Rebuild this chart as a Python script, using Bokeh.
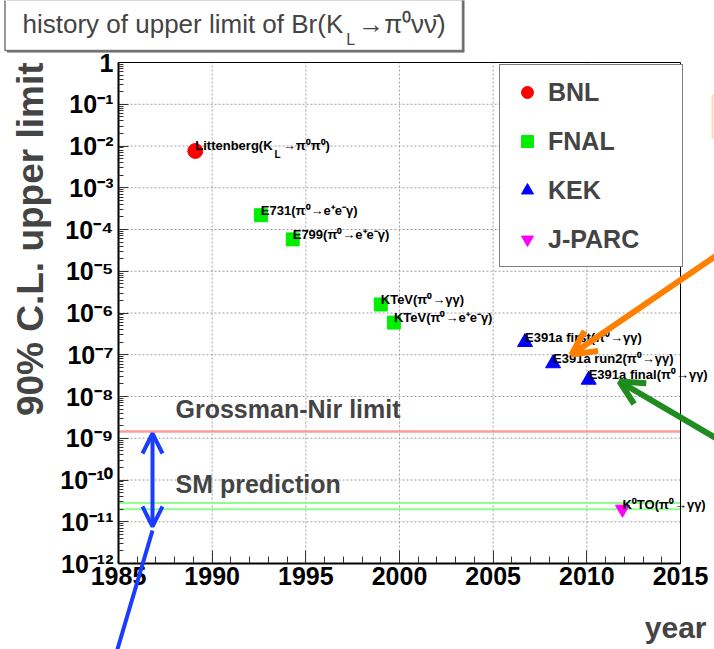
import math
import re
from bokeh.plotting import figure
from bokeh.models import (ColumnDataSource, Range1d, FixedTicker, CustomJSTickFormatter,
                          Label, LabelSet, Legend, LegendItem, Arrow, OpenHead,
                          BoxAnnotation)
from bokeh.core.properties import value
from bokeh.embed import file_html
from bokeh.resources import INLINE

# ---------------- data ----------------
bnl_years = [1989.1]
bnl_limits = [7.6e-3]
bnl_labels = ["Littenberg(K_{L}→π⁰π⁰)"]

fnal_years = [1992.6, 1994.3, 1999.0, 1999.7]
fnal_limits = [2.2e-4, 5.8e-5, 1.6e-6, 5.9e-7]
fnal_labels = ["E731(π⁰→e⁺e⁻γ)", "E799(π⁰→e⁺e⁻γ)", "KTeV(π⁰→γγ)", "KTeV(π⁰→e⁺e⁻γ)"]

kek_years = [2006.7, 2008.2, 2010.1]
kek_limits = [2.0e-7, 6.2e-8, 2.5e-8]
kek_labels = ["E391a first(π⁰→γγ)", "E391a run2(π⁰→γγ)", "E391a final(π⁰→γγ)"]

jparc_years = [2011.9]
jparc_limits = [2.0e-11]
jparc_labels = ["K⁰TO(π⁰→γγ)"]

grossman_nir_limit = 1.46e-9
sm_prediction_band = [2.0e-11, 2.8e-11]

x_tick_years = [1985, 1990, 1995, 2000, 2005, 2010, 2015]
y_tick_exponents = list(range(-12, 1))

title_text = "history of upper limit of Br(K_{L}→π⁰νν̄)"
y_title = "90% C.L. upper limit"
x_title = "year"

# ---------------- layout constants ----------------
W, H = 714, 649
PX_LEFT, PX_RIGHT, PX_TOP, PX_BOTTOM = 118, 680, 62, 563   # plot box inside the canvas
FONT = "Liberation Sans"

BOLD_W = {"L": .611, "i": .278, "t": .333, "e": .556, "n": .611, "b": .611, "r": .389,
          "g": .611, "(": .333, "K": .722, "h": .611, "s": .556, "o": .611, "y": .556,
          " ": .278, "f": .333, "u": .611, "p": .611, "l": .278, "m": .889, "B": .722}
REG_W = {"L": .556, "i": .222, "t": .278, "e": .556, "n": .556, "b": .556, "r": .333,
         "g": .556, "(": .333, "K": .667, "h": .556, "s": .5, "o": .556, "y": .5,
         " ": .278, "f": .278, "u": .556, "p": .556, "l": .222, "m": .833, "B": .667}


def text_width(s, size, bold):
    table = BOLD_W if bold else REG_W
    return sum(table.get(c, 0.6) for c in s) * size


def segments(s):
    out, pos = [], 0
    for m in re.finditer(r"_\{([^}]*)\}", s):
        if m.start() > pos:
            out.append((s[pos:m.start()], False))
        out.append((m.group(1), True))
        pos = m.end()
    if pos < len(s):
        out.append((s[pos:], False))
    return out


def sx(px):          # canvas pixel (from left) -> screen units of the full-canvas frame
    return px


def sy(py):          # canvas pixel (from top) -> screen units (from bottom)
    return H - py


# ranges chosen so that the plot box maps to the wanted pixel rectangle
x0, x1 = x_tick_years[0], x_tick_years[-1]
e0, e1 = y_tick_exponents[0], y_tick_exponents[-1]
ppy = (PX_RIGHT - PX_LEFT) / (x1 - x0)
ppd = (PX_BOTTOM - PX_TOP) / (e1 - e0)
x_range = Range1d(x0 - PX_LEFT / ppy, x1 + (W - PX_RIGHT) / ppy)
y_range = Range1d(10.0 ** (e0 - (H - PX_BOTTOM) / ppd), 10.0 ** (e1 + PX_TOP / ppd))
ymin, ymax = 10.0 ** e0, 10.0 ** e1

p = figure(width=W, height=H, x_range=x_range, y_range=y_range, y_axis_type="log",
           output_backend="svg", toolbar_location=None, title=None, min_border=0,
           background_fill_color="white", border_fill_color="white")
p.outline_line_color = None
p.xgrid.visible = False
p.ygrid.visible = False

# axes drawn at the edges of the plot box
p.xaxis.fixed_location = ymin
p.yaxis.fixed_location = x0
p.xaxis.bounds = (x0, x1)
p.yaxis.bounds = (ymin, ymax)
p.xaxis.ticker = FixedTicker(ticks=x_tick_years, minor_ticks=list(range(x0, x1 + 1)))
p.yaxis.ticker = FixedTicker(ticks=[10.0 ** e for e in y_tick_exponents],
                             minor_ticks=[k * 10.0 ** e for e in y_tick_exponents[:-1] for k in range(2, 10)])
p.yaxis.formatter = CustomJSTickFormatter(code="""
const e = Math.round(Math.log10(tick));
if (e === 0) { return "1"; }
const sup = {"-": "\u207b", "0": "\u2070", "1": "\u00b9", "2": "\u00b2", "3": "\u00b3",
             "4": "\u2074", "5": "\u2075", "6": "\u2076", "7": "\u2077", "8": "\u2078", "9": "\u2079"};
return "10" + String(e).split("").map(c => sup[c]).join("");
""")
for ax in (p.xaxis[0], p.yaxis[0]):
    ax.major_label_text_font = FONT
    ax.major_label_text_font_style = "bold"
    ax.major_label_text_font_size = "25px"
    ax.major_label_text_color = "black"
    ax.axis_line_color = "black"
    ax.axis_line_width = 2
    ax.major_tick_out = 0
    ax.minor_tick_out = 0
    ax.major_tick_line_color = "#333333"
    ax.minor_tick_line_color = "#333333"
p.xaxis.major_tick_in = 13
p.xaxis.minor_tick_in = 7
p.yaxis.major_tick_in = 10
p.yaxis.minor_tick_in = 5
p.xaxis.major_label_standoff = 3
p.yaxis.major_label_standoff = 5

# dotted grid inside the plot box
gx = x_tick_years[1:-1]
p.segment(x0=gx, x1=gx, y0=[ymin] * len(gx), y1=[ymax] * len(gx),
          line_color="#a0a0a0", line_dash="2 2", line_width=1)
gy = [10.0 ** e for e in y_tick_exponents[1:-1]]
p.segment(x0=[x0] * len(gy), x1=[x1] * len(gy), y0=gy, y1=gy,
          line_color="#a0a0a0", line_dash="2 2", line_width=1)

# reference lines
p.segment(x0=[x0], x1=[x1], y0=[grossman_nir_limit], y1=[grossman_nir_limit],
          line_color="#ff9a9a", line_width=2.5)
p.segment(x0=[x0] * 2, x1=[x1] * 2, y0=sm_prediction_band, y1=sm_prediction_band,
          line_color="#8cff8c", line_width=2)

# data series
series = [
    ("BNL", bnl_years, bnl_limits, bnl_labels, "circle", "#ff0000", 15),
    ("FNAL", fnal_years, fnal_limits, fnal_labels, "square", "#00ee00", 13),
    ("KEK", kek_years, kek_limits, kek_labels, "triangle", "#0000ff", 15),
    ("J-PARC", jparc_years, jparc_limits, jparc_labels, "inverted_triangle", "#ff00ff", 14),
]

legend_items = []
main_rows = dict(x=[], y=[], text=[], xo=[])
sub_rows = dict(x=[], y=[], text=[], xo=[])
MAIN_SIZE, SUB_SIZE = 13, 10

for name, xs, ys, labels, marker, color, size in series:
    src = ColumnDataSource(dict(year=xs, limit=ys))
    ln = p.line(x=[], y=[], line_color="#555555", line_width=1.5)
    r = p.scatter(x="year", y="limit", source=src, marker=marker, size=size,
                  fill_color=color, line_color=color)
    legend_items.append(LegendItem(label=name, renderers=[ln, r]))
    for xv, yv, lab in zip(xs, ys, labels):
        off = 0.0
        for seg, is_sub in segments(lab):
            if is_sub:
                off += 2
                sub_rows["x"].append(xv); sub_rows["y"].append(yv)
                sub_rows["text"].append(seg); sub_rows["xo"].append(off)
                off += text_width(seg, SUB_SIZE, True) + 2
            else:
                main_rows["x"].append(xv); main_rows["y"].append(yv)
                main_rows["text"].append(seg); main_rows["xo"].append(off)
                off += text_width(seg, MAIN_SIZE, True)

# frame box
p.add_layout(BoxAnnotation(left=x0, right=x1, bottom=ymin, top=ymax, fill_alpha=0.0,
                           line_color="black", line_width=1, line_alpha=1.0))

p.add_layout(LabelSet(x="x", y="y", text="text", x_offset="xo", y_offset=5,
                      source=ColumnDataSource(main_rows), text_font=value(FONT),
                      text_font_style="bold", text_font_size=f"{MAIN_SIZE}px",
                      text_baseline="middle", text_align="left", text_color="black"))
p.add_layout(LabelSet(x="x", y="y", text="text", x_offset="xo", y_offset=-4,
                      source=ColumnDataSource(sub_rows), text_font=value(FONT),
                      text_font_style="bold", text_font_size=f"{SUB_SIZE}px",
                      text_baseline="middle", text_align="left", text_color="black"))

# legend (lower-left corner given in screen units)
legend = Legend(items=legend_items, location=(sx(499), sy(62 + 205)), margin=0, padding=12,
                spacing=19, glyph_width=30, glyph_height=30, label_height=30, label_width=122,
                label_standoff=6, label_text_font=FONT, label_text_font_style="bold",
                label_text_font_size="25px", border_line_color="black", border_line_width=1,
                background_fill_color="white", background_fill_alpha=1.0)
p.add_layout(legend)

# text annotations (vertical centre of the capitals given)
p.add_layout(Label(x=sx(175), y=sy(408), x_units="screen", y_units="screen",
                   text="Grossman-Nir limit", text_font=FONT, text_font_style="bold",
                   text_font_size="25px", text_baseline="middle"))
p.add_layout(Label(x=sx(175), y=sy(483), x_units="screen", y_units="screen",
                   text="SM prediction", text_font=FONT, text_font_style="bold",
                   text_font_size="25px", text_baseline="middle"))
p.add_layout(Label(x=sx(30), y=sy(62), x_units="screen", y_units="screen",
                   text=y_title, angle=math.pi / 2, text_align="right", text_baseline="middle",
                   text_font=FONT, text_font_style="bold", text_font_size="37px"))
p.add_layout(Label(x=sx(706), y=sy(627), x_units="screen", y_units="screen",
                   text=x_title, text_align="right", text_baseline="middle",
                   text_font=FONT, text_font_style="bold", text_font_size="30px"))

# title box (with a slight shadow)
p.add_layout(BoxAnnotation(left=sx(6.5), right=sx(464), top=sy(-3), bottom=sy(52),
                           left_units="screen", right_units="screen",
                           top_units="screen", bottom_units="screen",
                           fill_color="#666666", fill_alpha=1.0, line_alpha=0.0))
p.add_layout(BoxAnnotation(left=sx(4.5), right=sx(462), top=sy(-3), bottom=sy(50),
                           left_units="screen", right_units="screen",
                           top_units="screen", bottom_units="screen",
                           fill_color="white", fill_alpha=1.0,
                           line_color="#777777", line_width=1.5, line_alpha=1.0))
tx = 22.0
for seg, is_sub in segments(title_text):
    if is_sub:
        tx += 3
        p.add_layout(Label(x=sx(tx), y=sy(39), x_units="screen", y_units="screen", text=seg,
                           text_font=FONT, text_font_size="16px", text_baseline="middle"))
        tx += text_width(seg, 16, False) + 3
    else:
        p.add_layout(Label(x=sx(tx), y=sy(23), x_units="screen", y_units="screen", text=seg,
                           text_font=FONT, text_font_size="26px", text_baseline="middle"))
        tx += text_width(seg, 26, False)

# slide arrows
orange = "#ff8000"
green = "#1e8c1e"
blue = "#1a3cff"
p.add_layout(BoxAnnotation(left=sx(712), right=sx(722), top=sy(95), bottom=sy(137),
                           left_units="screen", right_units="screen",
                           top_units="screen", bottom_units="screen",
                           fill_alpha=0.0, line_color=orange, line_width=2))
p.add_layout(Arrow(x_start=sx(716), y_start=sy(255), x_end=sx(571), y_end=sy(354),
                   start_units="screen", end_units="screen", line_color=orange, line_width=6,
                   end=OpenHead(size=24, line_color=orange, line_width=6)))
p.add_layout(Arrow(x_start=sx(716), y_start=sy(438), x_end=sx(619), y_end=sy(381),
                   start_units="screen", end_units="screen", line_color=green, line_width=6,
                   end=OpenHead(size=24, line_color=green, line_width=6)))
p.add_layout(Arrow(x_start=sx(152), y_start=sy(526), x_end=sx(152), y_end=sy(433),
                   start_units="screen", end_units="screen", line_color=blue, line_width=4,
                   start=OpenHead(size=20, line_color=blue, line_width=4),
                   end=OpenHead(size=20, line_color=blue, line_width=4)))
p.add_layout(Arrow(x_start=sx(152), y_start=sy(530), x_end=sx(116), y_end=sy(652),
                   start_units="screen", end_units="screen", line_color=blue, line_width=4,
                   end=None))

open("out.html", "w").write(file_html(p, INLINE))
